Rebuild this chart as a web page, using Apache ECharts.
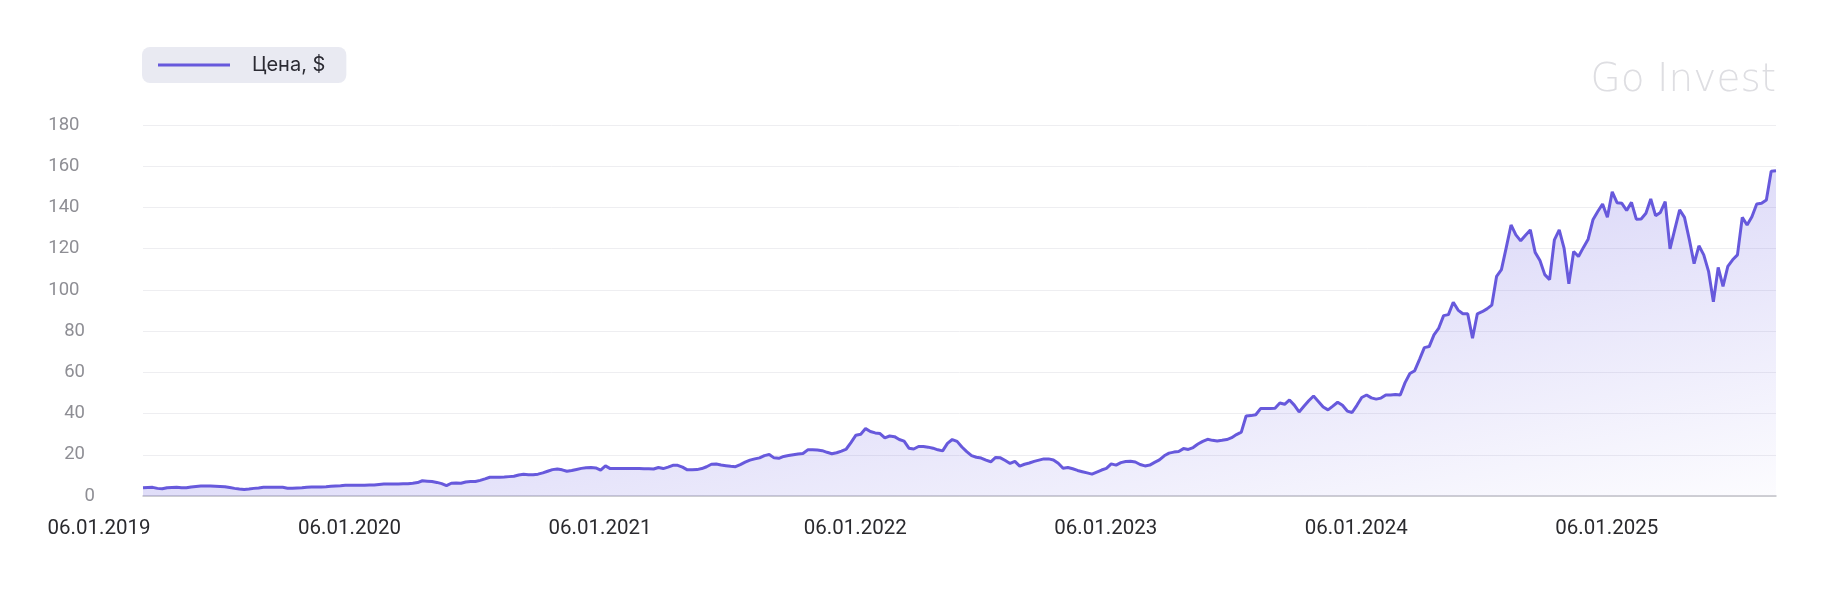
<!DOCTYPE html>
<html>
<head>
<meta charset="utf-8">
<script src="https://cdn.jsdelivr.net/npm/echarts/dist/echarts.min.js"></script>
<style>
  html, body { margin: 0; padding: 0; background: #ffffff; }
  #chart { width: 1824px; height: 589px; }
</style>
</head>
<body>
<div id="chart"></div>
<script>
// ---- data (weekly closes) ----
const seriesName = 'Цена, $';
const firstWeek = '2019-01-04';
const prices = [
  4.0, 4.1, 4.2, 3.7, 3.5, 4.0, 4.1, 4.2, 4.0, 4.0,
  4.4, 4.6, 4.8, 4.9, 4.8, 4.7, 4.6, 4.5, 4.1, 3.7,
  3.4, 3.2, 3.4, 3.7, 3.9, 4.2, 4.2, 4.2, 4.3, 4.2,
  3.8, 3.8, 3.9, 4.0, 4.3, 4.4, 4.4, 4.4, 4.5, 4.7,
  4.9, 5.0, 5.2, 5.2, 5.2, 5.2, 5.2, 5.3, 5.3, 5.6,
  5.8, 5.8, 5.8, 5.8, 5.9, 6.0, 6.2, 6.5, 7.4, 7.2,
  7.0, 6.6, 6.0, 5.0, 6.2, 6.3, 6.2, 6.8, 7.0, 7.0,
  7.6, 8.3, 9.1, 9.1, 9.1, 9.2, 9.4, 9.6, 10.2, 10.5,
  10.3, 10.3, 10.6, 11.2, 12.0, 12.8, 13.1, 12.7, 12.0, 12.4,
  12.9, 13.4, 13.7, 13.8, 13.6, 12.6, 14.6, 13.3, 13.4, 13.4,
  13.4, 13.4, 13.3, 13.3, 13.2, 13.2, 13.1, 13.8, 13.3, 14.0,
  14.9, 14.9, 14.0, 12.7, 12.7, 12.8, 13.3, 14.2, 15.4, 15.5,
  15.0, 14.7, 14.4, 14.2, 15.2, 16.4, 17.4, 18.0, 18.5, 19.6,
  20.1, 18.5, 18.3, 19.2, 19.6, 20.0, 20.4, 20.6, 22.4, 22.4,
  22.3, 22.0, 21.2, 20.5, 21.0, 21.8, 22.8, 26.0, 29.5, 30.0,
  32.7, 31.3, 30.6, 30.3, 28.2, 29.1, 28.8, 27.4, 26.6, 23.2,
  22.8, 24.0, 24.0, 23.7, 23.2, 22.4, 21.9, 25.5, 27.4, 26.5,
  23.8, 21.5, 19.6, 18.8, 18.4, 17.4, 16.6, 18.7, 18.5, 17.2,
  15.8, 16.8, 14.5, 15.4, 16.0, 16.8, 17.4, 18.0, 18.0, 17.5,
  15.9, 13.5, 13.8, 13.2, 12.4, 11.8, 11.2, 10.6, 11.6, 12.6,
  13.4, 15.6, 15.0, 16.2, 16.7, 16.9, 16.5, 15.3, 14.6, 15.0,
  16.3, 17.5, 19.5, 20.8, 21.3, 21.6, 23.0, 22.6, 23.5, 25.2,
  26.5, 27.5, 27.0, 26.7, 27.0, 27.4, 28.3, 29.8, 31.0, 38.8,
  39.0, 39.4, 42.4, 42.4, 42.4, 42.6, 45.1, 44.5, 46.6, 44.1,
  40.8, 43.5, 46.2, 48.5, 45.9, 43.2, 41.8, 43.6, 45.5, 44.0,
  41.2, 40.5, 44.0, 47.8, 49.0, 47.6, 47.0, 47.5, 49.0, 49.0,
  49.3, 49.0, 55.0, 59.4, 60.8, 66.3, 72.0, 72.5, 78.2, 81.5,
  87.5, 88.0, 94.0, 90.2, 88.4, 88.4, 76.5, 88.4, 89.4, 90.8,
  92.6, 106.6, 109.8, 120.5, 131.5, 126.7, 123.8, 126.5, 129.1, 118.2,
  114.3, 107.4, 105.0, 124.3, 129.1, 120.3, 103.0, 118.6, 116.2, 120.5,
  124.6, 134.0, 138.0, 141.7, 135.2, 147.6, 142.3, 142.0, 138.5, 142.5,
  134.3, 134.4, 137.2, 144.1, 136.0, 137.6, 142.8, 119.9, 129.5, 138.8,
  135.2, 124.5, 112.7, 121.4, 117.0, 109.0, 94.2, 110.9, 101.7, 111.4,
  114.6, 117.0, 135.2, 131.5, 135.5, 141.7, 142.0, 143.6, 157.6, 157.8
];
const xTickLabels = ['06.01.2019', '06.01.2020', '06.01.2021', '06.01.2022', '06.01.2023', '06.01.2024', '06.01.2025'];
const yMin = 0, yMax = 180, yStep = 20;
const watermark = 'Go Invest';

// weekly category keys (one per price)
const weeks = [];
{
  const d0 = new Date(firstWeek + 'T00:00:00Z');
  for (let i = 0; i < prices.length; i++) {
    const d = new Date(d0.getTime() + i * 7 * 86400000);
    weeks.push(d.toISOString().slice(0, 10));
  }
}
function yearOf(s) { return s.slice(0, 4); }
function isYearStart(idx) { return idx === 0 || yearOf(weeks[idx]) !== yearOf(weeks[idx - 1]); }

const lineColor = '#6759dc';

const chart = echarts.init(document.getElementById('chart'), null, { renderer: 'canvas' });
chart.setOption({
  animation: false,
  backgroundColor: '#ffffff',
  grid: { left: 143, right: 48, top: 125, bottom: 93, containLabel: false },
  legend: {
    left: 142, top: 47,
    backgroundColor: '#e9eaf2',
    borderRadius: 8,
    padding: [8, 21, 8, 16],
    icon: 'rect', itemWidth: 72, itemHeight: 3,
    selectedMode: false,
    textStyle: { fontFamily: 'Inter', fontSize: 20, color: '#2b2b33', lineHeight: 20, padding: [0, 0, 0, 17] },
    data: [seriesName]
  },
  graphic: [{
    type: 'text', right: 48, top: 61, silent: true,
    style: { text: watermark, font: '300 39px "DejaVu Sans"', fill: '#dedee2' }
  }],
  xAxis: {
    type: 'category',
    boundaryGap: false,
    data: weeks,
    axisLine: { show: true, lineStyle: { color: '#c2c2c8', width: 1.5 } },
    axisTick: { show: false },
    splitLine: { show: false },
    axisLabel: {
      interval: function (idx) { return isYearStart(idx); },
      formatter: function (val) {
        const lab = xTickLabels.find(function (t) { return t.endsWith(yearOf(val)); }) || '';
        return '{s|' + lab + '}';
      },
      margin: 22,
      rich: { s: { fontFamily: 'Roboto', fontSize: 20.5, color: '#2a2a2e', padding: [0, 88, 0, 0] } }
    }
  },
  yAxis: {
    type: 'value', min: yMin, max: yMax, interval: yStep,
    axisLine: { show: false },
    axisTick: { show: false },
    splitLine: { lineStyle: { color: '#eeeef1', width: 1 } },
    axisLabel: {
      margin: 48, align: 'right',
      formatter: function (v) {
        const s = String(v);
        return '{d' + s.length + '|' + s + '}';
      },
      rich: {
        d1: { fontFamily: 'Roboto', fontSize: 18.5, color: '#8e8e94', padding: [0, 0, 0, 0] },
        d2: { fontFamily: 'Roboto', fontSize: 18.5, color: '#8e8e94', padding: [0, 10, 0, 0] },
        d3: { fontFamily: 'Roboto', fontSize: 18.5, color: '#8e8e94', padding: [0, 15.5, 0, 0] }
      }
    }
  },
  series: [{
    name: seriesName,
    type: 'line',
    data: prices,
    color: lineColor,
    symbol: 'none',
    smooth: false,
    lineStyle: { color: lineColor, width: 3 },
    areaStyle: {
      color: {
        type: 'linear', global: true,
        x: 74.9, y: 393, x2: 155.4, y2: 815.5,
        colorStops: [
          { offset: 0, color: 'rgba(108,96,226,0.40)' },
          { offset: 1, color: 'rgba(108,96,226,0.02)' }
        ]
      }
    }
  }]
});
</script>
</body>
</html>
